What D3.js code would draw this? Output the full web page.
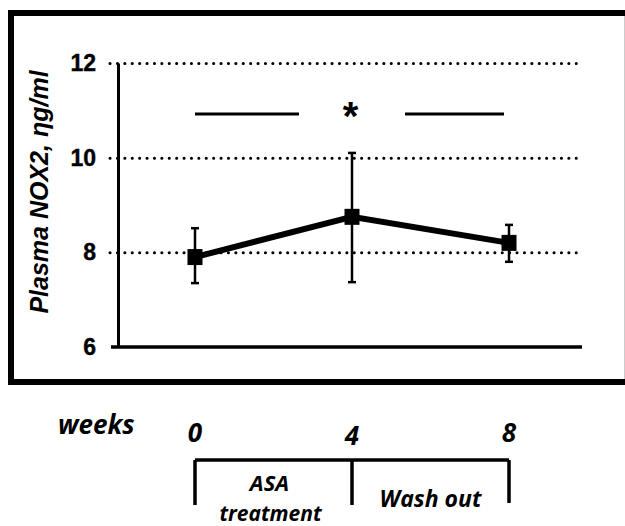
<!DOCTYPE html>
<html>
<head>
<meta charset="utf-8">
<script src="https://cdn.jsdelivr.net/npm/d3@7"></script>
<style>
  body { margin: 0; background: #fff; }
  svg { display: block; }
</style>
</head>
<body>
<script>
// values
const weeks = [0, 4, 8];
const means = [7.9, 8.75, 8.2];
const upper = [8.51, 10.1, 8.58];
const lower = [7.35, 7.37, 7.8];
const yTicks = [6, 8, 10, 12];
const phases = [
  { from: 0, to: 4, label: ["ASA", "treatment"] },
  { from: 4, to: 8, label: ["Wash out"] }
];
const sigLevel = 10.92;

const W = 625, H = 526;

const svg = d3.select("body")
  .append("svg")
  .attr("width", W)
  .attr("height", H);

var x = d3.scaleLinear().domain([0, 8]).range([195, 509]);
var y = d3.scaleLinear().domain([6, 12]).range([347, 63]);

// frame round the plot
svg.append("rect")
  .attr("x", 11).attr("y", 13)
  .attr("width", 640).attr("height", 369)
  .attr("fill", "none")
  .attr("stroke", "#000")
  .attr("stroke-width", 6);
svg.append("line")
  .attr("x1", 624.5).attr("x2", 624.5)
  .attr("y1", 16).attr("y2", 379)
  .attr("stroke", "#ccc")
  .attr("stroke-width", 1);

// dotted grid lines
const yGrid = d3.axisLeft(y)
  .tickValues(yTicks.filter(d => d > 6))
  .tickSize(-(578 - 110))
  .tickFormat("");
svg.append("g")
  .attr("class", "grid")
  .attr("transform", "translate(110,0)")
  .call(yGrid)
  .call(g => g.select(".domain").remove())
  .call(g => g.selectAll("line")
    .attr("stroke", "#000")
    .attr("stroke-width", 3)
    .attr("stroke-linecap", "round")
    .attr("stroke-dasharray", "0.1 7.3"));

// y axis
svg.append("g")
  .attr("transform", "translate(118,0)")
  .call(d3.axisLeft(y).tickValues(yTicks).tickFormat(d3.format("d")).tickSize(0).tickPadding(22))
  .call(g => g.select(".domain").attr("stroke-width", 3))
  .call(g => g.selectAll("text")
    .attr("font-family", "Liberation Sans, Arial, sans-serif")
    .attr("font-weight", "bold")
    .attr("font-size", 23)
    .attr("stroke", "#000")
    .attr("stroke-width", 0.4)
    .attr("fill", "#000"));

// x axis line
svg.append("line")
  .attr("x1", 111).attr("x2", 582)
  .attr("y1", y(6)).attr("y2", y(6))
  .attr("stroke", "#000")
  .attr("stroke-width", 3.5);

// y label
svg.append("text")
  .attr("transform", "translate(48,192) rotate(-90)")
  .attr("text-anchor", "middle")
  .attr("font-family", "Liberation Sans, Arial, sans-serif")
  .attr("font-weight", "bold")
  .attr("font-style", "italic")
  .attr("font-size", 25)
  .text("Plasma NOX2, ηg/ml");

const pts = weeks.map((w, i) => ({ w: w, m: means[i], hi: upper[i], lo: lower[i] }));

// error bars
const eb = svg.append("g").attr("stroke", "#000").attr("stroke-width", 2.5);
eb.selectAll(".stem").data(pts).enter().append("line")
  .attr("x1", d => x(d.w)).attr("x2", d => x(d.w))
  .attr("y1", d => y(d.hi)).attr("y2", d => y(d.lo));
eb.selectAll(".capHi").data(pts).enter().append("line")
  .attr("x1", d => x(d.w) - 4).attr("x2", d => x(d.w) + 4)
  .attr("y1", d => y(d.hi)).attr("y2", d => y(d.hi));
eb.selectAll(".capLo").data(pts).enter().append("line")
  .attr("x1", d => x(d.w) - 4).attr("x2", d => x(d.w) + 4)
  .attr("y1", d => y(d.lo)).attr("y2", d => y(d.lo));

// mean line
svg.append("path")
  .datum(pts)
  .attr("fill", "none")
  .attr("stroke", "#000")
  .attr("stroke-width", 6)
  .attr("d", d3.line().x(d => x(d.w)).y(d => y(d.m)));

// square markers
svg.selectAll(".mk").data(pts).enter().append("rect")
  .attr("x", d => x(d.w) - 7.5)
  .attr("y", d => y(d.m) - 8)
  .attr("width", 15)
  .attr("height", 16)
  .attr("fill", "#000");

// significance bar with star
const gap = 53;
const mid = x(4);
svg.append("line")
  .attr("x1", x(0)).attr("x2", mid - gap)
  .attr("y1", y(sigLevel)).attr("y2", y(sigLevel))
  .attr("stroke", "#000").attr("stroke-width", 3);
svg.append("line")
  .attr("x1", mid + gap).attr("x2", x(8) - 5)
  .attr("y1", y(sigLevel)).attr("y2", y(sigLevel))
  .attr("stroke", "#000").attr("stroke-width", 3);
svg.append("text")
  .attr("x", mid - 1.5)
  .attr("y", y(sigLevel) + 16)
  .attr("text-anchor", "middle")
  .attr("font-family", "Liberation Sans, Arial, sans-serif")
  .attr("font-weight", "bold")
  .attr("font-size", 40)
  .text("*");

// time line under the frame
const bfont = "Open Sans, sans-serif";
svg.append("text")
  .attr("x", 58).attr("y", 434)
  .attr("font-family", bfont)
  .attr("font-weight", "bold")
  .attr("font-style", "italic")
  .attr("font-size", 26)
  .text("weeks");

svg.selectAll(".wk").data(weeks).enter().append("text")
  .attr("x", d => x(d))
  .attr("y", d => d === 4 ? 445 : 442)
  .attr("text-anchor", "middle")
  .attr("font-family", bfont)
  .attr("font-weight", "bold")
  .attr("font-style", "italic")
  .attr("font-size", 26)
  .text(d => d);

const br = svg.append("g").attr("stroke", "#000").attr("stroke-width", 3.5).attr("fill", "none");
br.append("line")
  .attr("x1", x(0)).attr("x2", x(8))
  .attr("y1", 460).attr("y2", 460);
br.selectAll(".tk").data(weeks).enter().append("line")
  .attr("x1", d => x(d)).attr("x2", d => x(d))
  .attr("y1", 460).attr("y2", d => d === 8 ? 503 : 505);

phases.forEach(p => {
  const cx = (x(p.from) + x(p.to)) / 2;
  if (p.label.length > 1) {
    svg.append("text")
      .attr("x", cx - 4).attr("y", 491)
      .attr("text-anchor", "middle")
      .attr("font-family", bfont)
      .attr("font-weight", "bold")
      .attr("font-style", "italic")
      .attr("font-size", 22)
      .text(p.label[0]);
    svg.append("text")
      .attr("x", cx - 3).attr("y", 521)
      .attr("text-anchor", "middle")
      .attr("font-family", bfont)
      .attr("font-weight", "bold")
      .attr("font-style", "italic")
      .attr("font-size", 21)
      .text(p.label[1]);
  } else {
    svg.append("text")
      .attr("x", cx).attr("y", 507)
      .attr("text-anchor", "middle")
      .attr("font-family", bfont)
      .attr("font-weight", "bold")
      .attr("font-style", "italic")
      .attr("font-size", 23)
      .text(p.label[0]);
  }
});
</script>
</body>
</html>
